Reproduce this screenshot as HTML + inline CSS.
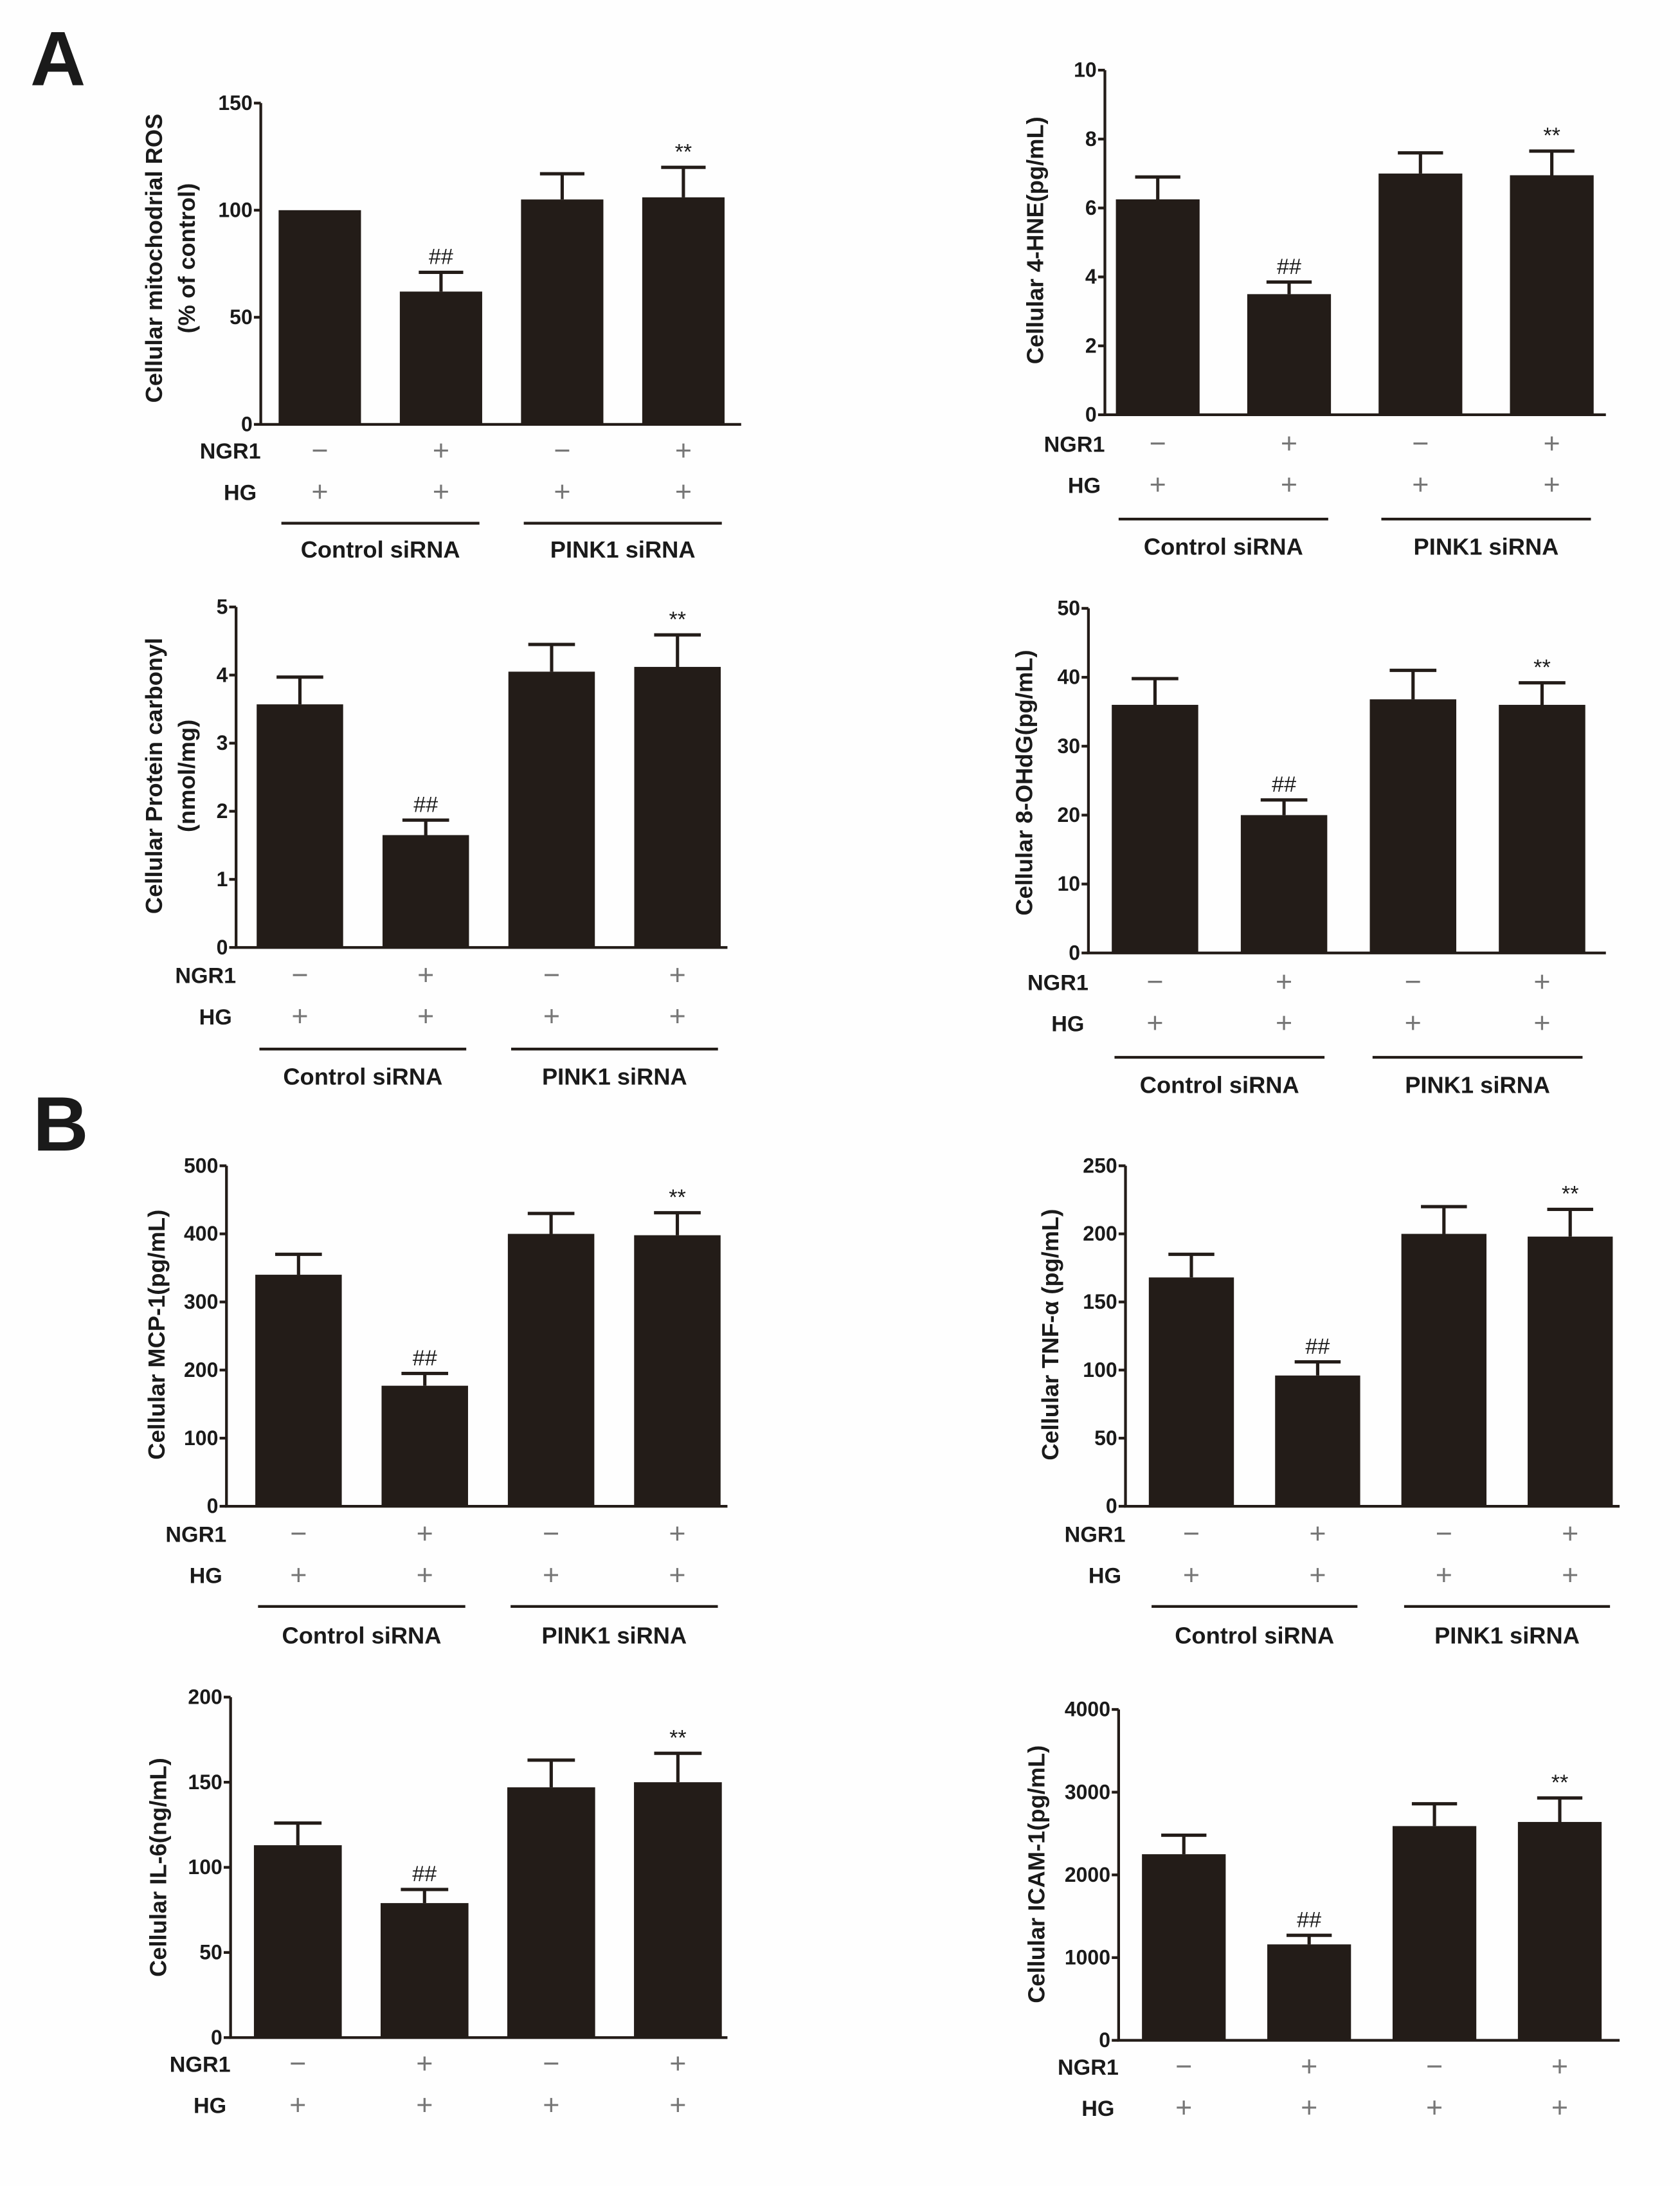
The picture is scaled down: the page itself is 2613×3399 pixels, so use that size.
<!DOCTYPE html>
<html><head><meta charset="utf-8"><style>
html,body{margin:0;padding:0;background:#fff;}
svg{display:block;}
text{font-family:"Liberation Sans",sans-serif;font-weight:bold;fill:#1a1a1a;}
text.thin{font-weight:normal;fill:#777;}
text.mark{font-weight:normal;}
</style></head><body>
<svg id="fig" width="2613" height="3399" viewBox="0 0 1224 1592" xmlns="http://www.w3.org/2000/svg">
<rect x="0" y="0" width="1224" height="1592" fill="#fefefe"/>
<text x="22" y="62" font-size="56">A</text>
<text x="24" y="838" font-size="56">B</text>
</svg>
<script>
const ngr1Signs = ['−','+','−','+'];
const hgSigns = ['+','+','+','+'];
const sigMarks = ['','##','','**'];
const groupNames = ['Control siRNA','PINK1 siRNA'];

const rosValues = [100,62,105,106];
const rosErr = [0,9,12,14];
const rosTicks = [0,50,100,150];
const hneValues = [6.25,3.5,7.0,6.95];
const hneErr = [0.65,0.35,0.6,0.7];
const hneTicks = [0,2,4,6,8,10];
const carbValues = [3.57,1.65,4.05,4.12];
const carbErr = [0.4,0.22,0.4,0.47];
const carbTicks = [0,1,2,3,4,5];
const ohdgValues = [36,20,36.8,36];
const ohdgErr = [3.8,2.2,4.2,3.2];
const ohdgTicks = [0,10,20,30,40,50];
const mcpValues = [340,177,400,398];
const mcpErr = [30,18,30,33];
const mcpTicks = [0,100,200,300,400,500];
const tnfValues = [168,96,200,198];
const tnfErr = [17,10,20,20];
const tnfTicks = [0,50,100,150,200,250];
const il6Values = [113,79,147,150];
const il6Err = [13,8,16,17];
const il6Ticks = [0,50,100,150,200];
const icamValues = [2250,1160,2590,2640];
const icamErr = [230,110,270,290];
const icamTicks = [0,1000,2000,3000,4000];

const panels = [
 {name:'ros',vals:rosValues,err:rosErr,ticks:rosTicks,ax:190,top:75,zero:309,b0:203,pitch:88.3,bw:60,xend:540,ngrY:328,hgY:358,lineY:381,grpY:400,lab:['Cellular mitochodrial ROS','(% of control)'],lx:118,ly:188},
 {name:'hne',vals:hneValues,err:hneErr,ticks:hneTicks,ax:805,top:51,zero:302,b0:813,pitch:95.7,bw:61,xend:1170,ngrY:323,hgY:353,lineY:378,grpY:398,lab:['Cellular 4-HNE(pg/mL)'],lx:760,ly:175},
 {name:'carbonyl',vals:carbValues,err:carbErr,ticks:carbTicks,ax:172,top:442,zero:690,b0:187,pitch:91.7,bw:63,xend:530,ngrY:710,hgY:740,lineY:764,grpY:784,lab:['Cellular Protein carbonyl','(nmol/mg)'],lx:118,ly:565},
 {name:'ohdg',vals:ohdgValues,err:ohdgErr,ticks:ohdgTicks,ax:793,top:443,zero:694,b0:810,pitch:94,bw:63,xend:1170,ngrY:715,hgY:745,lineY:770,grpY:790,lab:['Cellular 8-OHdG(pg/mL)'],lx:752,ly:570},
 {name:'mcp1',vals:mcpValues,err:mcpErr,ticks:mcpTicks,ax:165,top:849,zero:1097,b0:186,pitch:92,bw:63,xend:530,ngrY:1117,hgY:1147,lineY:1170,grpY:1191,lab:['Cellular MCP-1(pg/mL)'],lx:120,ly:972},
 {name:'tnf',vals:tnfValues,err:tnfErr,ticks:tnfTicks,ax:820,top:849,zero:1097,b0:837,pitch:92,bw:62,xend:1180,ngrY:1117,hgY:1147,lineY:1170,grpY:1191,lab:['Cellular TNF-α (pg/mL)'],lx:771,ly:972},
 {name:'il6',vals:il6Values,err:il6Err,ticks:il6Ticks,ax:168,top:1236,zero:1484,b0:185,pitch:92.3,bw:64,xend:530,ngrY:1503,hgY:1533,lineY:null,grpY:null,lab:['Cellular IL-6(ng/mL)'],lx:121,ly:1360},
 {name:'icam1',vals:icamValues,err:icamErr,ticks:icamTicks,ax:815,top:1245,zero:1486,b0:832,pitch:91.3,bw:61,xend:1180,ngrY:1505,hgY:1535,lineY:null,grpY:null,lab:['Cellular ICAM-1(pg/mL)'],lx:761,ly:1365}
];

const svg = document.getElementById('fig');
const NS = 'http://www.w3.org/2000/svg';
function mk(tag, attrs, parent){
  const e = document.createElementNS(NS, tag);
  for (const k in attrs) e.setAttribute(k, attrs[k]);
  parent.appendChild(e);
  return e;
}

panels.forEach(p => {
  const g = mk('g', {}, svg);
  
  
  const maxV = p.ticks[p.ticks.length-1];
  const yS = v => p.zero - (v / maxV) * (p.zero - p.top);
  const xS = i => p.b0 + i * p.pitch;

  p.vals.forEach((v, i) => {
    const x = xS(i);
    const y = yS(v);
    const r = mk('rect', {x:x, y:y, width:p.bw, height:p.zero - y, fill:'#231c18'}, g);
    
    
    const cx = x + p.bw/2;
    if (p.err[i] > 0) {
      const ey = yS(v + p.err[i]);
      const l = mk('path', {d:`M${cx},${y} V${ey} M${cx-p.bw*0.27},${ey} H${cx+p.bw*0.27}`, stroke:'#231c18', 'stroke-width':2.4, fill:'none'}, g);
      
      
    }
    if (sigMarks[i]) {
      const ty = yS(v + p.err[i]) - 6;
      const t = mk('text', {x:cx, y:ty, 'font-size':16, 'text-anchor':'middle', class:'mark'}, g);
      t.textContent = sigMarks[i];
      
      
    }
    const s1 = mk('text', {x:cx, y:p.ngrY+7, 'font-size':21, 'text-anchor':'middle', class:'thin'}, g);
    s1.textContent = ngr1Signs[i];
    
    
    const s2 = mk('text', {x:cx, y:p.hgY+7, 'font-size':21, 'text-anchor':'middle', class:'thin'}, g);
    s2.textContent = hgSigns[i];
    
    
  });

  const axis = mk('path', {d:`M${p.ax},${p.top} V${p.zero} H${p.xend}`, stroke:'#231c18', 'stroke-width':2, fill:'none'}, g);
  
  
  p.ticks.forEach(t => {
    const y = yS(t);
    const tk = mk('line', {x1:p.ax-5, x2:p.ax, y1:y, y2:y, stroke:'#231c18', 'stroke-width':2}, g);
    
    
    const tl = mk('text', {x:p.ax-6, y:y+5, 'font-size':15, 'text-anchor':'end'}, g);
    tl.textContent = t;
    
    
  });

  p.lab.forEach((line, k) => {
    const x = p.lx + k*24;
    const yt = mk('text', {x:x, y:p.ly, 'font-size':17, 'text-anchor':'middle', transform:`rotate(-90 ${x} ${p.ly})`}, g);
    yt.textContent = line;
    
    
  });

  const nl = mk('text', {x:p.ax, y:p.ngrY+6, 'font-size':16, 'text-anchor':'end'}, g);
  nl.textContent = 'NGR1';
  
  
  const hl = mk('text', {x:p.ax-3, y:p.hgY+6, 'font-size':16, 'text-anchor':'end'}, g);
  hl.textContent = 'HG';
  
  

  if (p.lineY !== null) {
    [[0,1],[2,3]].forEach((pair, k) => {
      const x1 = xS(pair[0]) + 2, x2 = xS(pair[1]) + p.bw - 2;
      const gl = mk('line', {x1:x1, x2:x2, y1:p.lineY, y2:p.lineY, stroke:'#231c18', 'stroke-width':2}, g);
      
      
      const gt = mk('text', {x:(x1+x2)/2, y:p.grpY+6, 'font-size':17, 'text-anchor':'middle'}, g);
      gt.textContent = groupNames[k];
      
      
    });
  }
});
</script>
</body></html>
